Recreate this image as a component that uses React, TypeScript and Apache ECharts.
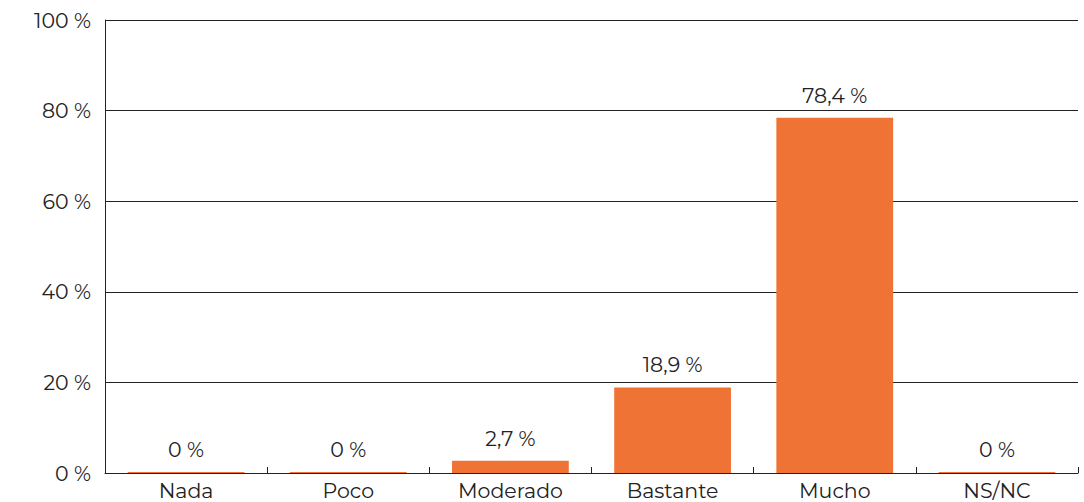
import React, { useEffect, useRef } from "react";
import * as echarts from "echarts";

const categories = ["Nada", "Poco", "Moderado", "Bastante", "Mucho", "NS/NC"];
const values = [0, 0, 2.7, 18.9, 78.4, 0];
const yTicks = [0, 20, 40, 60, 80, 100];

const fmt = (v: number) => `${String(v).replace(".", ",")} %`;

export default function App() {
  const ref = useRef<HTMLDivElement>(null);
  useEffect(() => {
    const chart = echarts.init(ref.current!, null, { renderer: "svg" });
    const font = "Montserrat, 'Open Sans', sans-serif";
    chart.setOption({
      animation: false,
      grid: { left: 105, right: 6, top: 20, bottom: 29, containLabel: false },
      xAxis: {
        type: "category",
        data: categories,
        axisLine: { show: true, lineStyle: { color: "#222", width: 1 } },
        axisTick: { show: true, inside: true, length: 6, lineStyle: { color: "#222" } },
        axisLabel: { color: "#222", fontSize: 20.5, fontFamily: font, margin: 7 },
      },
      yAxis: {
        type: "value",
        min: yTicks[0],
        max: yTicks[yTicks.length - 1],
        interval: 20,
        axisLine: { show: true, lineStyle: { color: "#222", width: 1 } },
        axisTick: { show: false },
        splitLine: { show: true, lineStyle: { color: "#222", width: 1 } },
        axisLabel: {
          color: "#222",
          fontSize: 20.5,
          fontFamily: font,
          margin: 14,
          formatter: (v: number) => `${v} %`,
        },
      },
      series: [
        {
          type: "bar",
          data: values,
          barWidth: "72%",
          barMinHeight: 1,
          itemStyle: { color: "#F07336" },
          label: {
            show: true,
            position: "top",
            distance: 12,
            color: "#222",
            fontSize: 20.5,
            fontFamily: font,
            formatter: (p: any) => fmt(p.value),
          },
        },
      ],
    });
    return () => chart.dispose();
  }, []);
  return <div ref={ref} style={{ width: 1084, height: 502, position: "absolute", left: 0, top: 0 }} />;
}
